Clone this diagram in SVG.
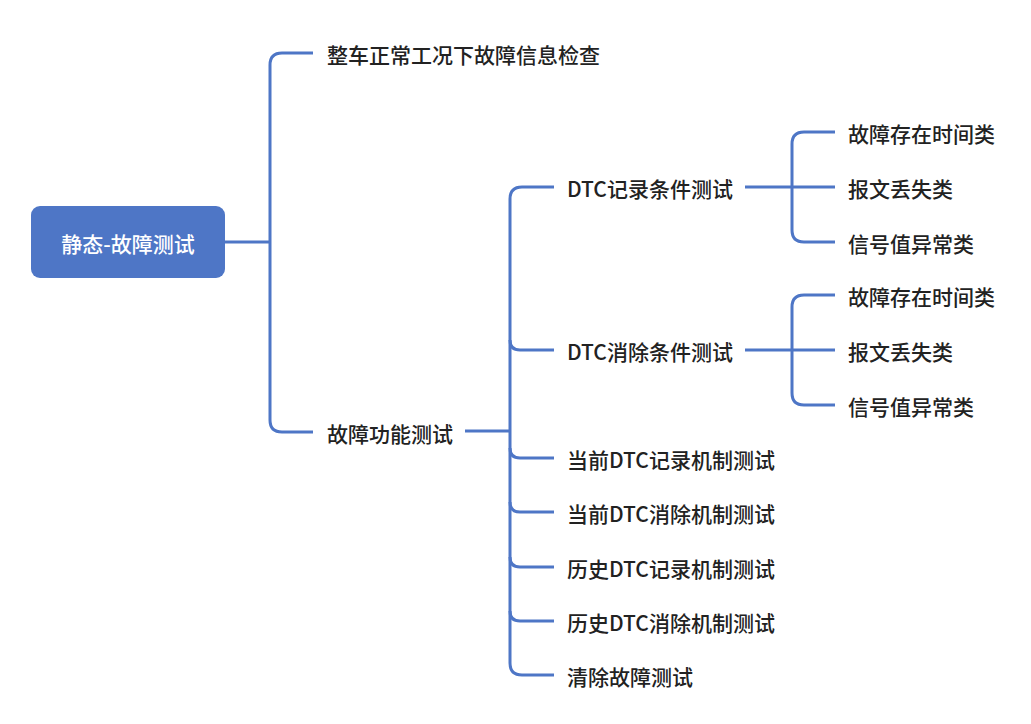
<svg xmlns="http://www.w3.org/2000/svg" width="1031" height="724" viewBox="0 0 1031 724">
<style>
.t{font-family:"Noto Sans CJK SC","Noto Sans",sans-serif;font-size:21px;font-weight:500;fill:#222;dominant-baseline:central}
.rt{font-family:"Noto Sans CJK SC","Noto Sans",sans-serif;font-size:21px;font-weight:500;fill:#fff;dominant-baseline:central;text-anchor:middle}
.c{fill:none;stroke:#4e76c6;stroke-width:3;stroke-linecap:butt}
</style>
<rect width="1031" height="724" fill="#fff"/>
<g id="connectors">
<path class="c" d="M225,242 H270"/>
<path class="c" d="M313,53 H282 Q270,53 270,65 V420 Q270,432 282,432 H313"/>
<path class="c" d="M465,431 H510"/>
<path class="c" d="M554,187 H522 Q510,187 510,199 V663 Q510,675 522,675 H554"/>
<path class="c" d="M510,340 Q510,350 520,350 H554"/>
<path class="c" d="M510,448 Q510,458 520,458 H554"/>
<path class="c" d="M510,502 Q510,512 520,512 H554"/>
<path class="c" d="M510,557 Q510,567 520,567 H554"/>
<path class="c" d="M510,611 Q510,621 520,621 H554"/>
<path class="c" d="M745,187 H835"/>
<path class="c" d="M835,132 H804 Q792,132 792,144 V230 Q792,242 804,242 H835"/>
<path class="c" d="M745,350 H835"/>
<path class="c" d="M835,295 H804 Q792,295 792,307 V393 Q792,405 804,405 H835"/>
</g>
<g id="root">
<rect x="31" y="206" width="194" height="72" rx="9" fill="#4e76c6"/>
<text class="rt" x="128" y="243">静态-故障测试</text>
</g>
<g id="n1"><text class="t" x="327" y="54">整车正常工况下故障信息检查</text></g>
<g id="n2"><text class="t" x="327" y="433">故障功能测试</text></g>
<g id="n21"><text class="t" x="567" y="188">DTC记录条件测试</text></g>
<g id="n22"><text class="t" x="567" y="351">DTC消除条件测试</text></g>
<g id="n23"><text class="t" x="567" y="459">当前DTC记录机制测试</text></g>
<g id="n24"><text class="t" x="567" y="513">当前DTC消除机制测试</text></g>
<g id="n25"><text class="t" x="567" y="568">历史DTC记录机制测试</text></g>
<g id="n26"><text class="t" x="567" y="622">历史DTC消除机制测试</text></g>
<g id="n27"><text class="t" x="567" y="676">清除故障测试</text></g>
<g id="n211"><text class="t" x="848" y="133">故障存在时间类</text></g>
<g id="n212"><text class="t" x="848" y="188">报文丢失类</text></g>
<g id="n213"><text class="t" x="848" y="243">信号值异常类</text></g>
<g id="n221"><text class="t" x="848" y="296">故障存在时间类</text></g>
<g id="n222"><text class="t" x="848" y="351">报文丢失类</text></g>
<g id="n223"><text class="t" x="848" y="406">信号值异常类</text></g>
</svg>
